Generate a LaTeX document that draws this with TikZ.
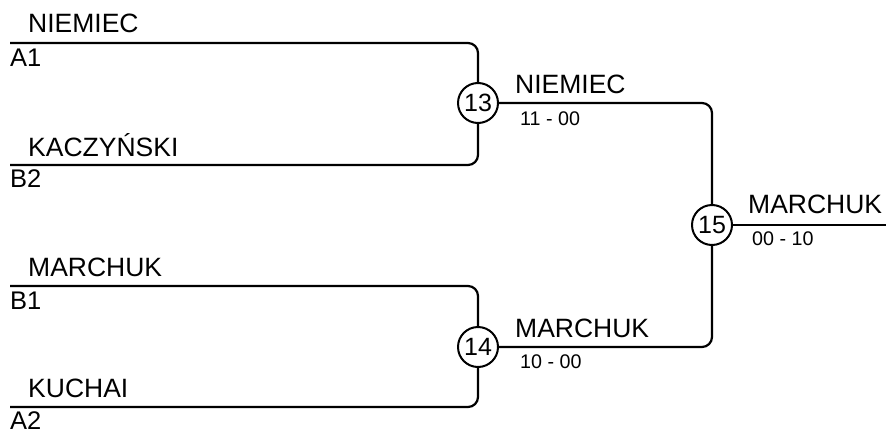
\documentclass[tikz,border=0pt]{standalone}
\usepackage{fontspec}
\setmainfont{Liberation Sans}
\begin{document}
\begin{tikzpicture}[x=1pt,y=-1pt,
  bline/.style={line width=2.2pt,rounded corners=10pt},
  matchc/.style={circle,draw,line width=2pt,minimum size=40pt,inner sep=0pt,font=\fontsize{25}{25}\selectfont},
  pname/.style={anchor=base west,inner sep=0pt,font=\fontsize{26.5}{26.5}\selectfont},
  seedtxt/.style={anchor=base west,inner sep=0pt,font=\fontsize{25.5}{25.5}\selectfont},
  scoretxt/.style={anchor=base west,inner sep=0pt,font=\fontsize{19.7}{19.7}\selectfont}]
\useasboundingbox (0,0) rectangle (886,431);
% match circles
\node[matchc] (m13) at (478,103) {13};
\node[matchc] (m14) at (478,347) {14};
\node[matchc] (m15) at (712,225) {15};
% entry line starts
\coordinate (a1) at (10,43);
\coordinate (b2) at (10,165);
\coordinate (b1) at (10,286);
\coordinate (a2) at (10,407);
\coordinate (fin) at (886,225);
% bracket lines
\draw[bline] (a1) -| (m13.north);
\draw[bline] (b2) -| (m13.south);
\draw[bline] (b1) -| (m14.north);
\draw[bline] (a2) -| (m14.south);
\draw[bline] (m13.east) -| (m15.north);
\draw[bline] (m14.east) -| (m15.south);
\draw[bline] (m15.east) -- (fin);
% names
\node[pname] (n1) at (28,32) {NIEMIEC};
\node[seedtxt] (s1) at (10,66) {A1};
\node[pname] (n2) at (28,156) {KACZYŃSKI};
\node[seedtxt] (s2) at (10,187) {B2};
\node[pname] (n3) at (28,276) {MARCHUK};
\node[seedtxt] (s3) at (10,309) {B1};
\node[pname] (n4) at (28,397) {KUCHAI};
\node[seedtxt] (s4) at (10,429) {A2};
% winners
\node[pname] (w13) at (515,93) {NIEMIEC};
\node[scoretxt] (r13) at (520,125) {11 - 00};
\node[pname] (w14) at (515,337) {MARCHUK};
\node[scoretxt] (r14) at (520,368) {10 - 00};
\node[pname] (w15) at (748,213) {MARCHUK};
\node[scoretxt] (r15) at (752,245) {00 - 10};
\end{tikzpicture}
\end{document}
